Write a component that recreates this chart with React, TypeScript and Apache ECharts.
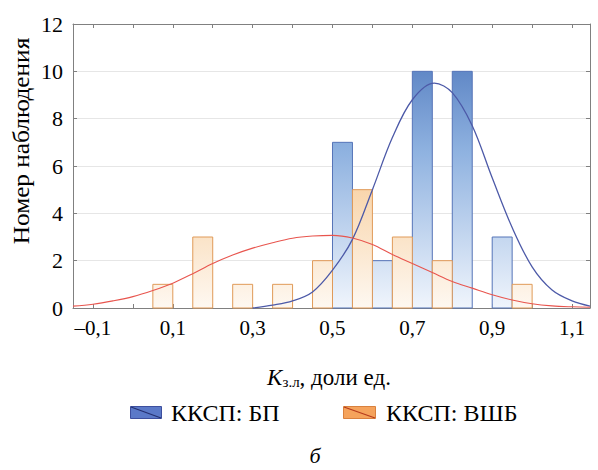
import React, { useEffect, useRef } from "react";
import * as echarts from "echarts";

// Histogram bins (K з.л, доли ед.)
const binEdges = [0, 0.1, 0.2, 0.3, 0.4, 0.5, 0.6, 0.7, 0.8, 0.9, 1.0];
// Counts per bin
const countsBP = [0, 0, 0, 0, 0, 7, 2, 10, 10, 3];
const countsVSHB = [1, 3, 1, 1, 2, 5, 3, 2, 0, 1];

// Fitted normal curves
const curveBPx = [0.3, 0.35, 0.4, 0.45, 0.5, 0.55, 0.6, 0.65, 0.7, 0.755, 0.8, 0.85, 0.9, 0.95, 1.0, 1.05, 1.1, 1.145];
const curveBPy = [0, 0.12, 0.3, 0.68, 1.6, 2.9, 5.0, 7.2, 8.8, 9.5, 9.1, 7.7, 5.5, 3.4, 1.74, 0.76, 0.3, 0.08];
const curveVSHBx = [-0.15, -0.1, -0.05, 0, 0.05, 0.1, 0.15, 0.2, 0.25, 0.3, 0.35, 0.4, 0.45, 0.5, 0.55, 0.6, 0.65, 0.7, 0.75, 0.8, 0.85, 0.9, 0.95, 1.0, 1.05, 1.1, 1.145];
const curveVSHBy = [0.08, 0.16, 0.3, 0.48, 0.74, 1.05, 1.45, 1.88, 2.24, 2.53, 2.76, 2.95, 3.04, 3.07, 2.96, 2.68, 2.26, 1.88, 1.5, 1.12, 0.84, 0.56, 0.34, 0.18, 0.09, 0.05, 0.03];

// Axis ticks
const xLabelValues = [-0.1, 0.1, 0.3, 0.5, 0.7, 0.9, 1.1];
const xTickValues = [-0.1, 0, 0.1, 0.2, 0.3, 0.4, 0.5, 0.6, 0.7, 0.8, 0.9, 1.0, 1.1];
const yMax = 12;
const yStep = 2;

const seriesNames = ["ККСП: БП", "ККСП: ВШБ"];

export default function App() {
  const ref = useRef<HTMLDivElement>(null);

  useEffect(() => {
    if (!ref.current) return;
    const chart = echarts.init(ref.current, undefined, { renderer: "svg" });

    const blueData = binEdges.slice(0, -1).map((e, i) => [e, (e + binEdges[i + 1]) / 2, countsBP[i]]);
    const orangeData = binEdges.slice(0, -1).map((e, i) => [(e + binEdges[i + 1]) / 2, binEdges[i + 1], countsVSHB[i]]);

    const makeRender = (stops: any[], stroke: string) => (params: any, api: any) => {
      const x0 = api.value(0);
      const x1 = api.value(1);
      const c = api.value(2);
      if (!c) return null;
      const p0 = api.coord([x0, c]);
      const p1 = api.coord([x1, 0]);
      const top = api.coord([x0, yMax])[1];
      return {
        type: "rect",
        shape: { x: p0[0], y: p0[1], width: p1[0] - p0[0], height: p1[1] - p0[1] },
        style: {
          fill: new echarts.graphic.LinearGradient(0, top, 0, p1[1], stops, true),
          stroke,
          lineWidth: 1,
        },
      };
    };

    const blueStops = [
      { offset: 0, color: "#4670b8" },
      { offset: 0.45, color: "#8fb2e0" },
      { offset: 1, color: "#f0f5fc" },
    ];
    const orangeStops = [
      { offset: 0, color: "#f0a65c" },
      { offset: 0.55, color: "#f8d3a7" },
      { offset: 1, color: "#fef8f1" },
    ];

    const fmt = (v: number) => v.toFixed(1).replace(".", ",").replace("-", "–");

    const frameColor = "#808080";

    chart.setOption({
      animation: false,
      grid: { left: 73, right: 8, top: 24, bottom: 162, containLabel: false },
      xAxis: [
        {
          type: "value",
          position: "bottom",
          min: -0.15,
          max: 1.145,
          axisLine: { show: true, onZero: false, lineStyle: { color: frameColor, width: 1 } },
          axisTick: { show: true, inside: true, length: 4, customValues: xTickValues, lineStyle: { color: frameColor } },
          axisLabel: {
            show: true,
            customValues: xLabelValues,
            formatter: fmt,
            margin: 9,
            fontFamily: "Liberation Serif",
            fontSize: 21,
            color: "#000",
          },
          splitLine: { show: false },
        },
        {
          type: "value",
          position: "top",
          min: -0.15,
          max: 1.145,
          axisLine: { show: true, onZero: false, lineStyle: { color: frameColor, width: 1 } },
          axisTick: { show: true, inside: true, length: 4, customValues: xTickValues, lineStyle: { color: frameColor } },
          axisLabel: { show: false },
          splitLine: { show: false },
        },
      ],
      yAxis: [
        {
          type: "value",
          position: "left",
          min: 0,
          max: yMax,
          interval: yStep,
          axisLine: { show: true, onZero: false, lineStyle: { color: frameColor, width: 1 } },
          axisTick: { show: true, inside: true, length: 4, lineStyle: { color: frameColor } },
          axisLabel: { margin: 10, fontFamily: "Liberation Serif", fontSize: 22, color: "#000" },
          splitLine: { show: true, lineStyle: { color: "#e6e6e6", width: 1 } },
        },
        {
          type: "value",
          position: "right",
          min: 0,
          max: yMax,
          interval: yStep,
          axisLine: { show: true, onZero: false, lineStyle: { color: frameColor, width: 1 } },
          axisTick: { show: true, inside: true, length: 4, lineStyle: { color: frameColor } },
          axisLabel: { show: false },
          splitLine: { show: false },
        },
      ],
      series: [
        {
          name: seriesNames[0],
          type: "custom",
          xAxisIndex: 0,
          yAxisIndex: 0,
          renderItem: makeRender(blueStops, "#5574b8"),
          encode: { x: [0, 1], y: 2 },
          data: blueData,
        },
        {
          name: seriesNames[0] + " fit",
          type: "line",
          xAxisIndex: 0,
          yAxisIndex: 0,
          smooth: 0.35,
          symbol: "none",
          lineStyle: { color: "#4d5aa8", width: 1.3 },
          data: curveBPx.map((x, i) => [x, curveBPy[i]]),
        },
        {
          name: seriesNames[1],
          type: "custom",
          xAxisIndex: 0,
          yAxisIndex: 0,
          renderItem: makeRender(orangeStops, "#e09a58"),
          encode: { x: [0, 1], y: 2 },
          data: orangeData,
        },
        {
          name: seriesNames[1] + " fit",
          type: "line",
          xAxisIndex: 0,
          yAxisIndex: 0,
          smooth: 0.35,
          symbol: "none",
          lineStyle: { color: "#e8554e", width: 1.1 },
          data: curveVSHBx.map((x, i) => [x, curveVSHBy[i]]),
        },
      ],
      graphic: [
        {
          type: "text",
          x: 21,
          y: 141,
          rotation: Math.PI / 2,
          scaleX: 1.1,
          style: {
            text: "Номер наблюдения",
            fontFamily: "Liberation Serif",
            fontSize: 23,
            fill: "#000",
            align: "center",
            verticalAlign: "middle",
          },
        },
        {
          type: "text",
          x: 329,
          y: 377,
          style: {
            text: "{k|K}{s|з.л}{n|, доли ед.}",
            align: "center",
            verticalAlign: "middle",
            rich: {
              k: { fontFamily: "Liberation Serif", fontSize: 23, fontStyle: "italic", fill: "#000", lineHeight: 24, verticalAlign: "middle" },
              s: { fontFamily: "Liberation Serif", fontSize: 15, fill: "#000", lineHeight: 9, verticalAlign: "bottom" },
              n: { fontFamily: "Liberation Serif", fontSize: 23, fill: "#000", lineHeight: 24, verticalAlign: "middle" },
            },
          },
        },
        // legend
        {
          type: "rect",
          shape: { x: 130.5, y: 406.5, width: 31, height: 12 },
          style: { fill: "#5b79c8", stroke: "#3d4f9e", lineWidth: 1 },
        },
        {
          type: "line",
          shape: { x1: 131, y1: 407, x2: 161, y2: 418 },
          style: { stroke: "#253070", lineWidth: 1.2 },
        },
        {
          type: "text",
          x: 171,
          y: 413,
          style: { text: seriesNames[0], fontFamily: "Liberation Serif", fontSize: 24, fill: "#000", verticalAlign: "middle" },
        },
        {
          type: "rect",
          shape: { x: 343.5, y: 406.5, width: 32, height: 12 },
          style: { fill: "#f5a35c", stroke: "#d9813e", lineWidth: 1 },
        },
        {
          type: "line",
          shape: { x1: 344, y1: 407, x2: 375, y2: 418 },
          style: { stroke: "#b53a1c", lineWidth: 1.2 },
        },
        {
          type: "text",
          x: 386,
          y: 413,
          style: { text: seriesNames[1], fontFamily: "Liberation Serif", fontSize: 24, fill: "#000", verticalAlign: "middle" },
        },
        {
          type: "text",
          x: 315,
          y: 455,
          style: { text: "б", fontFamily: "Liberation Serif", fontSize: 22, fontStyle: "italic", fill: "#000", align: "center", verticalAlign: "middle" },
        },
      ],
    });

    return () => chart.dispose();
  }, []);

  return (
    <div
      ref={ref}
      style={{ position: "fixed", left: 0, top: 0, width: 598, height: 470, background: "#ffffff" }}
    />
  );
}
